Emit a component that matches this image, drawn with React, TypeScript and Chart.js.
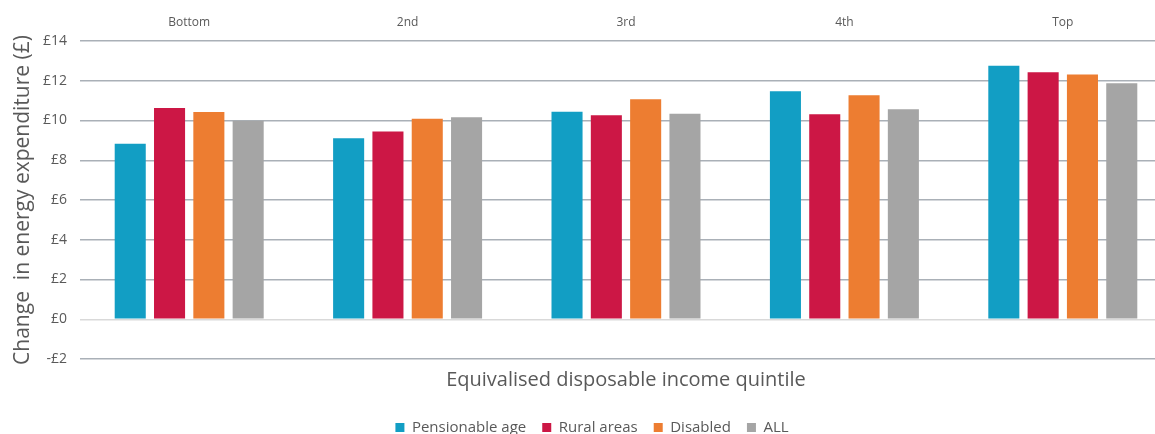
import React, { useEffect, useRef } from "react";
import { Chart, registerables } from "chart.js";

Chart.register(...registerables);

const categories = ["Bottom", "2nd", "3rd", "4th", "Top"];
const pensionableAge = [8.83, 9.11, 10.44, 11.47, 12.75];
const ruralAreas = [10.63, 9.45, 10.26, 10.31, 12.43];
const disabled = [10.43, 10.09, 11.07, 11.27, 12.31];
const allHouseholds = [9.99, 10.16, 10.34, 10.56, 11.87];
const seriesNames = ["Pensionable age", "Rural areas", "Disabled", "ALL"];
const seriesColors = ["#129EC4", "#CC1745", "#ED7D31", "#A5A5A5"];
const yTitle = "Change  in energy expenditure (£)";
const xTitle = "Equivalised disposable income quintile";

const FONT = "'Open Sans', 'Noto Sans', sans-serif";
const TEXT = "#595959";

export default function App() {
  const ref = useRef<HTMLCanvasElement | null>(null);
  useEffect(() => {
    document.body.style.overflow = "hidden";
    const values = [pensionableAge, ruralAreas, disabled, allHouseholds];
    const chart = new Chart(ref.current!, {
      type: "bar",
      data: {
        labels: categories,
        datasets: values.map((v, i) => ({
          label: seriesNames[i],
          data: v,
          backgroundColor: seriesColors[i],
          borderWidth: 0,
          categoryPercentage: 0.72,
          barPercentage: 0.79,
          xAxisID: "x",
          yAxisID: "y",
        })),
      },
      options: {
        animation: false,
        responsive: false,
        maintainAspectRatio: false,
        layout: { padding: { left: 0, right: 0, top: 0, bottom: 0 } },
        plugins: {
          tooltip: { enabled: false },
          legend: {
            position: "bottom",
            labels: {
              boxWidth: 9,
              boxHeight: 9,
              padding: 16,
              color: TEXT,
              font: { family: FONT, size: 15 },
            },
          },
        },
        scales: {
          x: {
            position: "top",
            grid: { display: false },
            border: { display: false },
            ticks: { color: TEXT, font: { family: FONT, size: 12 }, padding: 3 },
            afterFit: (axis: any) => {
              axis.height = 41;
            },
          },
          x2: {
            type: "category",
            labels: categories,
            position: "bottom",
            grid: { display: false },
            border: { display: false },
            ticks: { display: false },
            title: {
              display: true,
              text: xTitle,
              color: TEXT,
              font: { family: FONT, size: 20 },
              padding: { top: 1, bottom: 12 },
            },
          },
          y: {
            min: -2,
            max: 14,
            border: { display: false },
            grid: {
              drawTicks: false,
              lineWidth: 1.5,
              color: (ctx: any) => (ctx.tick && ctx.tick.value === 0 ? "#d9d9d9" : "#aab0b7"),
            },
            ticks: {
              stepSize: 2,
              padding: 13,
              color: TEXT,
              font: { family: FONT, size: 14 },
              callback: (v: any) => (Number(v) < 0 ? "-£" + Math.abs(Number(v)) : "£" + v),
            },
            title: {
              display: true,
              text: yTitle,
              color: TEXT,
              font: { family: FONT, size: 21 },
              padding: { top: 10, bottom: 0 },
            },
            afterFit: (axis: any) => {
              axis.width = 80;
            },
          },
          yRight: {
            type: "linear",
            position: "right",
            display: true,
            grid: { display: false },
            border: { display: false },
            ticks: { display: false },
            afterFit: (axis: any) => {
              axis.width = 12;
            },
          },
        },
      },
    });
    return () => chart.destroy();
  }, []);
  return (
    <div style={{ position: "fixed", left: 0, top: 0, width: 1184, height: 445, background: "#fff" }}>
      <canvas ref={ref} width={1184} height={445} style={{ width: 1184, height: 445 }} />
    </div>
  );
}
